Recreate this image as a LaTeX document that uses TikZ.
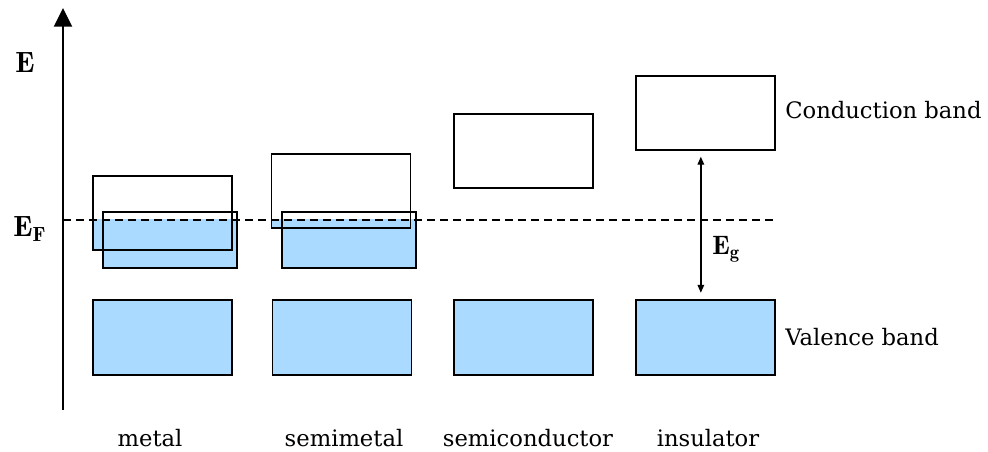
\documentclass[tikz,border=0pt]{standalone}
\usepackage{fontspec}
\newfontfamily\dejavu{DejaVu Serif}
\usetikzlibrary{positioning, arrows.meta, backgrounds}
\definecolor{bandblue}{RGB}{170,218,255}

\begin{document}
\begin{tikzpicture}[x=0.75pt, y=-0.75pt,
    band/.style={draw, line width=1.1pt, inner sep=0pt},
    cond/.style={band, minimum width=104pt, minimum height=55.5pt},
    low/.style={band, minimum width=100.5pt, minimum height=42pt},
    val/.style={band, fill=bandblue, minimum width=104pt, minimum height=56pt},
    lbl/.style={font=\dejavu\fontsize{17}{20}\selectfont, inner sep=0pt},
    sym/.style={font=\fontsize{22}{26}\selectfont, inner sep=0pt}
]
\useasboundingbox (0,0) rectangle (988,452);

% bands
\node (metC) at (162.5,213) [cond] {};
\node (metL) at (170,240) [low] {};
\node (semiC) at (341,191) [cond] {};
\node (semiL) at (349,240) [low] {};
\node (scC) at (523.5,151) [cond] {};
\node (insC) at (705.5,113) [cond] {};
\node (metV) at (162.5,337.5) [val] {};
\node (semiV) at (342,337.5) [val] {};
\node (scV) at (523.5,337.5) [val] {};
\node (insV) at (705.5,337.5) [val] {};

% filled up to the Fermi level
\begin{scope}[on background layer]
\clip (63,220) rectangle (988,452);
\foreach \b in {metC, metL, semiC, semiL}
    \fill[bandblue] (\b.south west) rectangle (\b.north east);
\end{scope}

% energy axis and Fermi level
\coordinate (axisB) at (63,410);
\coordinate (axisT) at (63,8);
\draw[line width=1.5pt, -{Triangle[width=13.5pt, length=14pt]}] (axisB) -- (axisT);
\coordinate (efL) at (63,220);
\coordinate (efR) at (778,220);
\draw[line width=1.1pt, dash pattern=on 6pt off 3.75pt] (efL) -- (efR);

\draw[line width=1pt, {Triangle[length=6pt, width=5pt]}-{Triangle[length=6pt, width=5pt]}]
    ([xshift=-3.5pt, yshift=-4.5pt]insC.south) -- ([xshift=-3.5pt, yshift=5pt]insV.north);

\node (eLbl) at (15,73) [sym, anchor=base west] {$\mathbf{E}$};
\node (efLbl) at (13,237) [sym, anchor=base west] {$\mathbf{E}_{\mathbf{F}}$};
\node (egLbl) at (712,254) [sym, anchor=base west, font=\fontsize{20}{24}\selectfont] {$\mathbf{E}_{\mathbf{g}}$};

\node (cbLbl) at (785,119) [lbl, anchor=base west] {Conduction band};
\node (vbLbl) at (785,345) [lbl, anchor=base west] {Valence band};

\node (metT) at (150,446) [lbl, anchor=base] {metal};
\node (semiT) at (344,446) [lbl, anchor=base] {semimetal};
\node (scT) at (528,446) [lbl, anchor=base] {semiconductor};
\node (insT) at (708,446) [lbl, anchor=base] {insulator};
\end{tikzpicture}
\end{document}
